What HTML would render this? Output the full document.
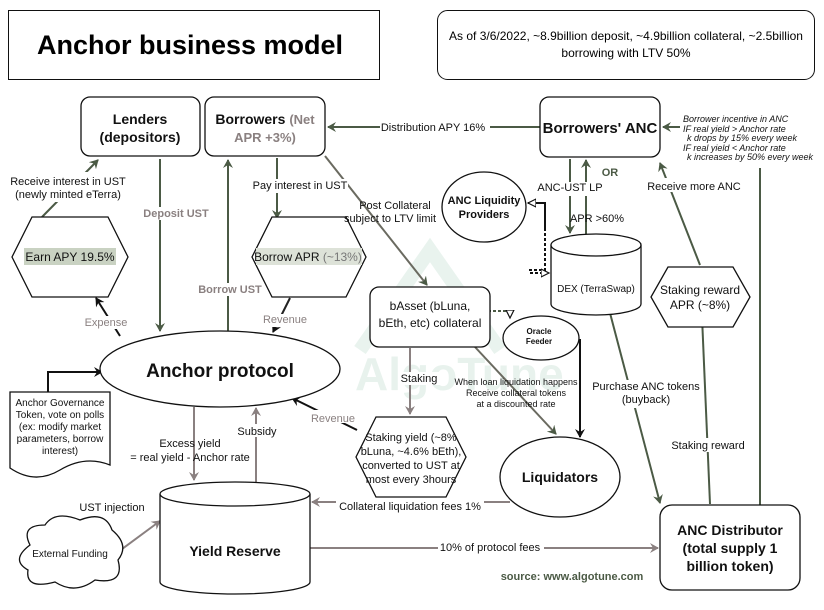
<!DOCTYPE html>
<html><head><meta charset="utf-8"><style>
html,body{margin:0;padding:0;background:#fff;}
svg{display:block;font-family:"Liberation Sans",Arial,sans-serif;}
</style></head><body>
<svg width="824" height="610" viewBox="0 0 824 610" xmlns="http://www.w3.org/2000/svg">
<defs>
<marker id="ag" markerWidth="10" markerHeight="10" refX="8" refY="5" orient="auto" markerUnits="userSpaceOnUse"><path d="M0,0 L9,5 L0,10 L3,5 z" fill="#4b5a45"/></marker>
<marker id="ay" markerWidth="10" markerHeight="10" refX="8" refY="5" orient="auto" markerUnits="userSpaceOnUse"><path d="M0,0 L9,5 L0,10 L3,5 z" fill="#8a8080"/></marker>
<marker id="ak" markerWidth="10" markerHeight="10" refX="8" refY="5" orient="auto" markerUnits="userSpaceOnUse"><path d="M0,0 L9,5 L0,10 L3,5 z" fill="#111"/></marker>
<marker id="ao" markerWidth="10" markerHeight="10" refX="8" refY="5" orient="auto" markerUnits="userSpaceOnUse"><path d="M0,1 L8,5 L0,9 z" fill="#fff" stroke="#111" stroke-width="1.2"/></marker>
</defs>

<!-- watermark -->
<g opacity="0.10" fill="none" stroke="#2a8a5a" stroke-width="14">
<path d="M360,350 L430,250 L500,350"/>
</g>
<text x="355" y="390" font-size="46" font-weight="bold" fill="#2a8a5a" opacity="0.10">AlgoTune</text>

<!-- title -->
<rect x="8.5" y="10.5" width="371" height="69" fill="#fff" stroke="#111"/>
<text x="190" y="54" font-size="27" font-weight="bold" text-anchor="middle">Anchor business model</text>
<rect x="437.5" y="10.5" width="377" height="69" rx="10" fill="#fff" stroke="#111"/>
<text x="626" y="40" font-size="12" text-anchor="middle">As of 3/6/2022, ~8.9billion deposit, ~4.9billion collateral, ~2.5billion</text>
<text x="626" y="57" font-size="12" text-anchor="middle">borrowing with LTV 50%</text>

<!-- connectors -->
<g fill="none" stroke-width="2">
<line x1="540" y1="127" x2="328" y2="127" stroke="#4b5a45" marker-end="url(#ag)"/>
<line x1="42" y1="217" x2="98" y2="160" stroke="#4b5a45" marker-end="url(#ag)"/>
<line x1="160" y1="159" x2="160" y2="331" stroke="#4b5a45" marker-end="url(#ag)"/>
<line x1="228" y1="331" x2="228" y2="160" stroke="#4b5a45" marker-end="url(#ag)"/>
<line x1="277" y1="158" x2="277" y2="218" stroke="#4b5a45" marker-end="url(#ag)"/>
<line x1="290" y1="298" x2="273" y2="332" stroke="#222" marker-end="url(#ak)"/>
<line x1="120" y1="336" x2="96" y2="298" stroke="#111" marker-end="url(#ak)"/>
<line x1="325" y1="156" x2="427" y2="285" stroke="#6a6a60" marker-end="url(#ag)"/>
<line x1="410" y1="348" x2="410" y2="414" stroke="#8a8080" marker-end="url(#ay)"/>
<line x1="475" y1="347" x2="556" y2="434" stroke="#6a6a60" marker-end="url(#ag)"/>
<line x1="357" y1="430" x2="292" y2="398" stroke="#111" marker-end="url(#ak)"/>
<line x1="194" y1="407" x2="194" y2="480" stroke="#8a8080" marker-end="url(#ay)"/>
<line x1="256" y1="482" x2="256" y2="408" stroke="#8a8080" marker-end="url(#ay)"/>
<line x1="510" y1="502" x2="312" y2="502" stroke="#8a8080" marker-end="url(#ay)"/>
<line x1="310" y1="548" x2="658" y2="548" stroke="#8a8080" marker-end="url(#ay)"/>
<line x1="118" y1="552" x2="160" y2="521" stroke="#8a8080" marker-end="url(#ay)"/>
<line x1="570" y1="159" x2="570" y2="233" stroke="#4b5a45" marker-end="url(#ag)"/>
<line x1="586" y1="234" x2="586" y2="160" stroke="#4b5a45" marker-end="url(#ag)"/>
<line x1="610" y1="313" x2="660" y2="503" stroke="#4b5a45" marker-end="url(#ag)"/>
<line x1="710" y1="504" x2="700" y2="270" stroke="#4b5a45" marker-end="url(#ag)"/>
<line x1="700" y1="265" x2="660" y2="163" stroke="#4b5a45" marker-end="url(#ag)"/>
<line x1="760" y1="505" x2="760" y2="168" stroke="#4b5a45"/>
<line x1="680" y1="127" x2="663" y2="127" stroke="#4b5a45" marker-end="url(#ag)"/>
<path d="M48,393 L48,372 L102,372" stroke="#111" marker-end="url(#ak)" marker-start="url(#ak)"/>
<path d="M580,339 L580,437" stroke="#111" marker-end="url(#ak)"/>
<path d="M580,340 L562,340" stroke="#111" marker-end="url(#ao)"/>
<path d="M545,228 L545,270 L530,270 L530,273 L549,273" stroke="#111" stroke-dasharray="3,2" marker-end="url(#ao)"/>
<path d="M545,228 L545,203 L528,203" stroke="#111" marker-end="url(#ao)"/>
<path d="M488,311 L510,311 L510,318" stroke="#4b5a45" stroke-dasharray="3,2" marker-end="url(#ao)"/>
</g>

<!-- nodes -->
<g stroke="#111" stroke-width="1.3" fill="#fff">
<rect x="81" y="97" width="119" height="59" rx="9"/>
<rect x="205" y="97" width="120" height="59" rx="9"/>
<rect x="540" y="97" width="120" height="60" rx="9"/>
<polygon points="32,217 108,217 128,257 108,297 32,297 12,257"/>
<polygon points="272,217 346,217 366,257 346,297 272,297 252,257"/>
<ellipse cx="220" cy="369" rx="120" ry="38"/>
<path d="M10,392 L110,392 L110,465 Q85,455 60,470 Q35,485 10,468 Z"/>
<path d="M160,494 A75,12 0 0 1 310,494 L310,582 A75,12 0 0 1 160,582 Z"/>
<path d="M160,494 A75,12 0 0 0 310,494"/>
<path d="M30,545 Q20,525 45,525 Q55,510 80,520 Q105,510 112,530 Q130,545 118,560 Q125,585 95,580 Q75,595 55,582 Q25,590 28,570 Q10,560 30,545 Z"/>
<rect x="370" y="287" width="120" height="60" rx="9"/>
<ellipse cx="541" cy="338" rx="38" ry="22"/>
<ellipse cx="484" cy="207" rx="42" ry="35"/>
<path d="M551,245 A45,11 0 0 1 641,245 L641,304 A45,11 0 0 1 551,304 Z"/>
<path d="M551,245 A45,11 0 0 0 641,245"/>
<polygon points="668,267 733,267 750,297 733,327 668,327 651,297"/>
<polygon points="376,417 446,417 466,457 446,497 376,497 356,457"/>
<ellipse cx="560" cy="477" rx="60" ry="40"/>
<rect x="660" y="505" width="140" height="85" rx="12"/>
</g>

<!-- node text -->
<g text-anchor="middle" font-weight="bold" fill="#111">
<text x="140" y="124" font-size="14">Lenders</text>
<text x="140" y="142" font-size="14">(depositors)</text>
<text x="265" y="124" font-size="14">Borrowers <tspan fill="#8a8080" font-size="13">(Net</tspan></text>
<text x="265" y="142" font-size="13" fill="#8a8080">APR +3%)</text>
<text x="600" y="133" font-size="15">Borrowers' ANC</text>
<text x="220" y="377" font-size="19">Anchor protocol</text>
<text x="235" y="556" font-size="14">Yield Reserve</text>
<text x="730" y="535" font-size="14">ANC Distributor</text>
<text x="730" y="553" font-size="14">(total supply 1</text>
<text x="730" y="571" font-size="14">billion token)</text>
<text x="560" y="482" font-size="14">Liquidators</text>
<text x="484" y="204" font-size="11">ANC Liquidity</text>
<text x="484" y="218" font-size="11">Providers</text>
<text x="539" y="334" font-size="8">Oracle</text>
<text x="539" y="344" font-size="8">Feeder</text>
<text x="610" y="176" font-size="11" fill="#4b5a45">OR</text>
<text x="572" y="580" font-size="11" fill="#4b5a45">source: www.algotune.com</text>
</g>
<rect x="24" y="248" width="92" height="17" fill="#c9d2c2"/>
<rect x="256" y="248" width="106" height="17" fill="#dde2d8"/>
<g text-anchor="middle" fill="#111" font-size="12">
<text x="70" y="261">Earn APY 19.5%</text>
<text x="308" y="261">Borrow APR <tspan fill="#777">(~13%)</tspan></text>
<text x="430" y="310">bAsset (bLuna,</text>
<text x="430" y="327">bEth, etc) collateral</text>
<text x="596" y="292" font-size="10">DEX (TerraSwap)</text>
<text x="700" y="294">Staking reward</text>
<text x="700" y="309">APR (~8%)</text>
<text x="411" y="441" font-size="11">Staking yield (~8%</text>
<text x="411" y="455" font-size="11">bLuna, ~4.6% bEth),</text>
<text x="411" y="469" font-size="11">converted to UST at</text>
<text x="411" y="483" font-size="11">most every 3hours</text>
<text x="70" y="557" font-size="10">External Funding</text>
<g font-size="10"><text x="60" y="406">Anchor Governance</text><text x="60" y="418">Token, vote on polls</text><text x="60" y="430">(ex: modify market</text><text x="60" y="442">parameters, borrow</text><text x="60" y="454">interest)</text></g>
</g>

<!-- edge labels -->
<g text-anchor="middle" font-size="11" fill="#111">
<rect x="380" y="120" width="110" height="14" fill="#fff"/>
<text x="433" y="131">Distribution APY 16%</text>
<rect x="12" y="172" width="120" height="30" fill="#fff"/>
<text x="68" y="185">Receive interest in UST</text>
<text x="68" y="198">(newly minted eTerra)</text>
<rect x="142" y="207" width="68" height="13" fill="#fff"/>
<text x="176" y="217" fill="#8a8080" font-weight="bold">Deposit UST</text>
<rect x="197" y="283" width="66" height="13" fill="#fff"/>
<text x="230" y="293" fill="#8a8080" font-weight="bold">Borrow UST</text>
<rect x="252" y="179" width="96" height="14" fill="#fff"/>
<text x="300" y="189">Pay interest in UST</text>
<text x="395" y="209">Post Collateral</text>
<text x="390" y="222">subject to LTV limit</text>
<rect x="82" y="316" width="48" height="13" fill="#fff"/>
<text x="106" y="326" fill="#8a8080">Expense</text>
<rect x="260" y="314" width="50" height="13" fill="#fff"/>
<text x="285" y="323" fill="#8a8080">Revenue</text>
<rect x="306" y="410" width="44" height="13" fill="#fff"/>
<text x="333" y="422" fill="#8a8080">Revenue</text>
<text x="190" y="447">Excess yield</text>
<text x="190" y="461">= real yield - Anchor rate</text>
<rect x="236" y="424" width="42" height="13" fill="#fff"/>
<text x="257" y="435">Subsidy</text>
<text x="112" y="511">UST injection</text>
<rect x="398" y="372" width="42" height="13" fill="#fff"/>
<text x="419" y="382">Staking</text>
<g font-size="9"><text x="516" y="385">When loan liquidation happens</text><text x="516" y="396">Receive collateral tokens</text><text x="516" y="407">at a discounted rate</text></g>
<rect x="336" y="500" width="148" height="14" fill="#fff"/>
<text x="410" y="510">Collateral liquidation fees 1%</text>
<rect x="438" y="541" width="106" height="14" fill="#fff"/>
<text x="490" y="551">10% of protocol fees</text>
<rect x="540" y="182" width="62" height="14" fill="#fff"/>
<text x="570" y="191">ANC-UST LP</text>
<text x="597" y="222">APR &gt;60%</text>
<rect x="644" y="178" width="92" height="14" fill="#fff"/>
<text x="694" y="190">Receive more ANC</text>
<rect x="596" y="380" width="100" height="28" fill="#fff"/>
<text x="646" y="390">Purchase ANC tokens</text>
<text x="646" y="403">(buyback)</text>
<rect x="670" y="438" width="78" height="14" fill="#fff"/>
<text x="708" y="449">Staking reward</text>
</g>
<g font-size="9" font-style="italic" fill="#111">
<text x="683" y="122">Borrower incentive in ANC</text>
<text x="683" y="132">IF real yield &gt; Anchor rate</text>
<text x="687" y="141">k drops by 15% every week</text>
<text x="683" y="151">IF real yield &lt; Anchor rate</text>
<text x="687" y="160">k increases by 50% every week</text>
</g>
</svg>
</body></html>
